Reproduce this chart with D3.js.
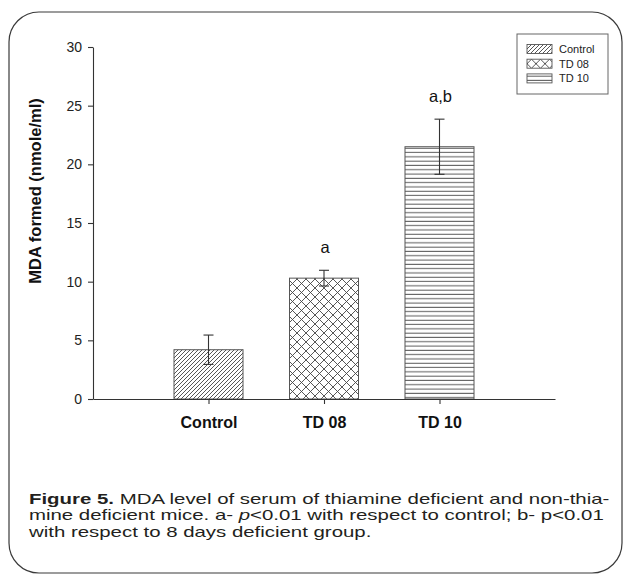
<!DOCTYPE html>
<html>
<head>
<meta charset="utf-8">
<script src="https://cdn.jsdelivr.net/npm/d3@7"></script>
<style>
  body { margin: 0; background: #fff; }
  svg { display: block; }
</style>
</head>
<body>
<svg id="chart" width="624" height="576"></svg>
<script>
// data
const categories = ["Control", "TD 08", "TD 10"];
const means = [4.2, 10.3, 21.5];
const errors = [1.25, 0.67, 2.35];
const marks = ["", "a", "a,b"];
const yTicks = [0, 5, 10, 15, 20, 25, 30];
const patterns = ["hatch", "cross", "horiz"];

const svg = d3.select("#chart");
const ink = "#333";
const sans = "Liberation Sans, Arial, sans-serif";

// frame round the figure + caption
svg.append("rect")
  .attr("x", 9).attr("y", 12)
  .attr("width", 613).attr("height", 561)
  .attr("rx", 30).attr("ry", 30)
  .attr("fill", "none").attr("stroke", "#3a3a3a").attr("stroke-width", 1.2);

// fill patterns
const defs = svg.append("defs");

const p1 = defs.append("pattern").attr("id", "hatch")
  .attr("patternUnits", "userSpaceOnUse").attr("width", 4).attr("height", 4);
p1.append("path").attr("d", "M-1,1 l2,-2 M0,4 l4,-4 M3,5 l2,-2")
  .attr("stroke", "#444").attr("stroke-width", 0.9);

const p2 = defs.append("pattern").attr("id", "cross")
  .attr("patternUnits", "userSpaceOnUse").attr("width", 9).attr("height", 9);
p2.append("path").attr("d", "M0,0 L9,9 M9,0 L0,9")
  .attr("stroke", "#444").attr("stroke-width", 0.9);

const p3 = defs.append("pattern").attr("id", "horiz")
  .attr("patternUnits", "userSpaceOnUse").attr("width", 8).attr("height", 4.3);
p3.append("path").attr("d", "M0,2 H8")
  .attr("stroke", "#444").attr("stroke-width", 0.9);

// scales
const x = d3.scalePoint().domain(categories).range([93, 555]).padding(1);
const y = d3.scaleLinear().domain([0, 30]).range([399, 47]);
const barW = 69;

// bars
svg.selectAll(".bar")
  .data(categories)
  .join("rect")
  .attr("class", "bar")
  .attr("x", d => x(d) - barW / 2)
  .attr("y", (d, i) => y(means[i]))
  .attr("width", barW)
  .attr("height", (d, i) => y(0) - y(means[i]))
  .attr("fill", (d, i) => "url(#" + patterns[i] + ")")
  .attr("stroke", "#555").attr("stroke-width", 1);

// error bars
const eb = svg.selectAll(".err")
  .data(categories)
  .join("g")
  .attr("class", "err")
  .attr("stroke", ink).attr("stroke-width", 1.1);
eb.append("line")
  .attr("x1", d => x(d)).attr("x2", d => x(d))
  .attr("y1", (d, i) => y(means[i] - errors[i]))
  .attr("y2", (d, i) => y(means[i] + errors[i]));
eb.append("line")
  .attr("x1", d => x(d) - 5).attr("x2", d => x(d) + 5)
  .attr("y1", (d, i) => y(means[i] + errors[i]))
  .attr("y2", (d, i) => y(means[i] + errors[i]));
eb.append("line")
  .attr("x1", d => x(d) - 5).attr("x2", d => x(d) + 5)
  .attr("y1", (d, i) => y(means[i] - errors[i]))
  .attr("y2", (d, i) => y(means[i] - errors[i]));

// significance letters
svg.selectAll(".mark")
  .data(categories)
  .join("text")
  .attr("class", "mark")
  .attr("x", d => x(d) + 1)
  .attr("y", (d, i) => y(means[i] + errors[i]) - 17)
  .attr("text-anchor", "middle")
  .attr("font-family", sans)
  .attr("font-size", 16.5)
  .attr("fill", "#111")
  .text((d, i) => marks[i]);

// y axis
const yAxis = svg.append("g")
  .attr("transform", "translate(93,0)")
  .call(d3.axisLeft(y).tickValues(yTicks).tickSize(5).tickSizeOuter(0).tickPadding(6));
yAxis.selectAll("text")
  .attr("font-family", sans)
  .attr("font-size", 14).attr("fill", "#222");

// x axis
const xAxis = svg.append("g")
  .attr("transform", "translate(0,399)")
  .call(d3.axisBottom(x).tickSize(5).tickSizeOuter(0).tickPadding(13));
xAxis.selectAll("text")
  .attr("font-family", sans)
  .attr("font-size", 16).attr("font-weight", "bold").attr("fill", "#111");

svg.selectAll(".domain, .tick line").attr("stroke", ink).attr("stroke-width", 1.1);

// y axis title
svg.append("text")
  .attr("transform", "translate(41,191) rotate(-90)")
  .attr("text-anchor", "middle")
  .attr("font-family", sans)
  .attr("font-size", 16.5).attr("font-weight", "bold").attr("fill", "#111")
  .text("MDA formed (nmole/ml)");

// legend
const legend = svg.append("g");
legend.append("rect")
  .attr("x", 517).attr("y", 34).attr("width", 91).attr("height", 60)
  .attr("fill", "#fff").attr("stroke", "#666").attr("stroke-width", 1);
const rows = legend.selectAll(".row")
  .data(categories)
  .join("g")
  .attr("transform", (d, i) => "translate(527," + (49 + i * 14.7) + ")");
rows.append("rect")
  .attr("x", 0).attr("y", -4.5).attr("width", 25).attr("height", 9)
  .attr("fill", (d, i) => "url(#" + patterns[i] + ")")
  .attr("stroke", "#555").attr("stroke-width", 0.9);
rows.append("text")
  .attr("x", 32).attr("y", 4)
  .attr("font-family", sans)
  .attr("font-size", 11).attr("fill", "#222")
  .text(d => d);

// caption
const capLines = [
  [["Figure 5.", "bold"], [" MDA level of serum of thiamine deficient and non-thia-", ""]],
  [["mine deficient mice. a- ", ""], ["p", "italic"], ["<0.01 with respect to control; b- p<0.01", ""]],
  [["with respect to 8 days deficient group.", ""]]
];
const cap = svg.append("g")
  .attr("font-family", sans)
  .attr("font-size", 14.5)
  .attr("fill", "#231f20");
const capTexts = capLines.map((parts, li) => {
  const t = cap.append("text").attr("x", 0).attr("y", 504 + li * 16.5);
  parts.forEach(p => {
    const s = t.append("tspan").text(p[0]);
    if (p[1] === "bold") s.attr("font-weight", "bold");
    if (p[1] === "italic") s.attr("font-style", "italic");
  });
  return t;
});
// stretch sideways so the first line spans the same width as the print
const w0 = capTexts[0].node().getComputedTextLength();
cap.attr("transform", "translate(29,0) scale(" + (581 / w0) + ",1)");
</script>
</body>
</html>
